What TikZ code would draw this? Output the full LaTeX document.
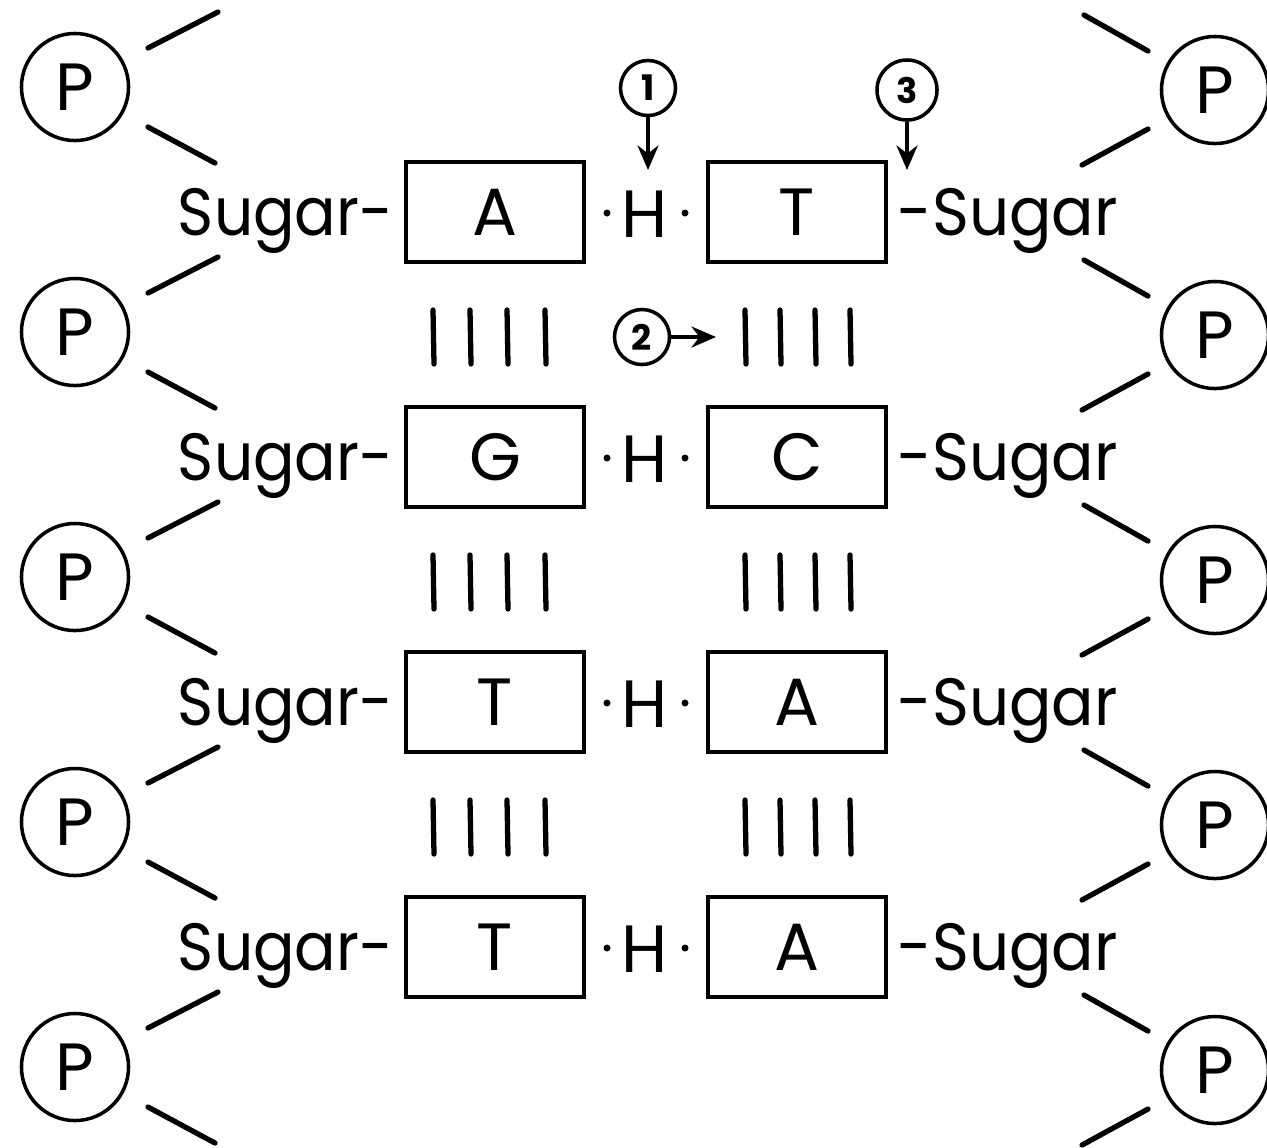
\documentclass[tikz,border=0pt]{standalone}
\usepackage{fontspec}
\setmainfont{Poppins}
\usetikzlibrary{arrows.meta,calc}
\begin{document}
\begin{tikzpicture}[x=0.01cm,y=-0.01cm,
  big/.style={font=\fontsize{19}{22}\selectfont},
  pcirc/.style={draw,circle,line width=1pt,minimum size=1.07cm,inner sep=0pt,big,text height=0.47cm,text depth=0pt},
  basebox/.style={draw,line width=0.9pt,minimum width=1.78cm,minimum height=1.0cm,inner sep=0pt,big,text height=0.47cm,text depth=0pt},
  lbl/.style={inner sep=0pt,big},
  dotn/.style={circle,fill,inner sep=0pt,minimum size=0.07cm},
  bond/.style={line width=1.5pt,line cap=round},
  stub/.style={line width=1.5pt,line cap=round},
  num/.style={draw,circle,line width=1pt,minimum size=0.55cm,inner sep=0pt,font=\fontsize{10}{12}\selectfont\bfseries},
  arr/.style={-{Stealth[length=7pt,width=6pt]},line width=0.9pt}
]
\clip (0,0) rectangle (1267,1147);
\fill[white] (0,0) rectangle (1267,1147);

% phosphate circles and backbone stubs
\foreach \k/\y in {1/87,2/332,3/577,4/822,5/1067}{
  \node[pcirc] (pl\k) at (75,\y) {P};
  \draw[stub] ($(pl\k)+(73,-39)$) -- ($(pl\k)+(143,-75)$);
  \draw[stub] ($(pl\k)+(73,40)$) -- ($(pl\k)+(140,76)$);
  \node[pcirc] (pr\k) at (1215,\y+3) {P};
  \draw[stub] ($(pr\k)+(-67,-39)$) -- ($(pr\k)+(-131,-75)$);
  \draw[stub] ($(pr\k)+(-67,39)$) -- ($(pr\k)+(-133,75)$);
}

% base pair rows
\foreach \k/\y/\l/\r in {1/212/A/T,2/457/G/C,3/702/T/A,4/947/T/A}{
  \node[basebox] (bl\k) at (495,\y) {\l};
  \node[basebox] (br\k) at (797,\y) {\r};
  \node[lbl,anchor=base] (h\k) at (645,\y+25) {H};
  \node[dotn] (dl\k) at (607,\y+1) {};
  \node[dotn] (dr\k) at (685,\y+1) {};
  \node[lbl,anchor=base east] (sl\k) at (394,\y+23) {\scalebox{0.92}[1]{Sugar-}};
  \node[lbl,anchor=base west] (sr\k) at (897,\y+23) {\scalebox{0.94}[1]{-Sugar}};
}

% hydrogen bond bars
\foreach \y in {337,582,827}{
  \foreach \x in {433,470,507,545,745,780,815,850}{
    \draw[bond] (\x,\y-27) -- (\x+1,\y+27);
  }
}

% numbered callouts
\node[num] (n1) at (648,88) {1};
\coordinate (a1) at (648,170);
\draw[arr] (n1.south) -- (a1);
\node[num,minimum size=0.6cm] (n3) at (907,90) {3};
\coordinate (a3) at (907,170);
\draw[arr] (n3.south) -- (a3);
\node[num] (n2) at (642,337) {2};
\coordinate (a2) at (716,337);
\draw[arr] (n2.east) -- (a2);
\end{tikzpicture}
\end{document}
